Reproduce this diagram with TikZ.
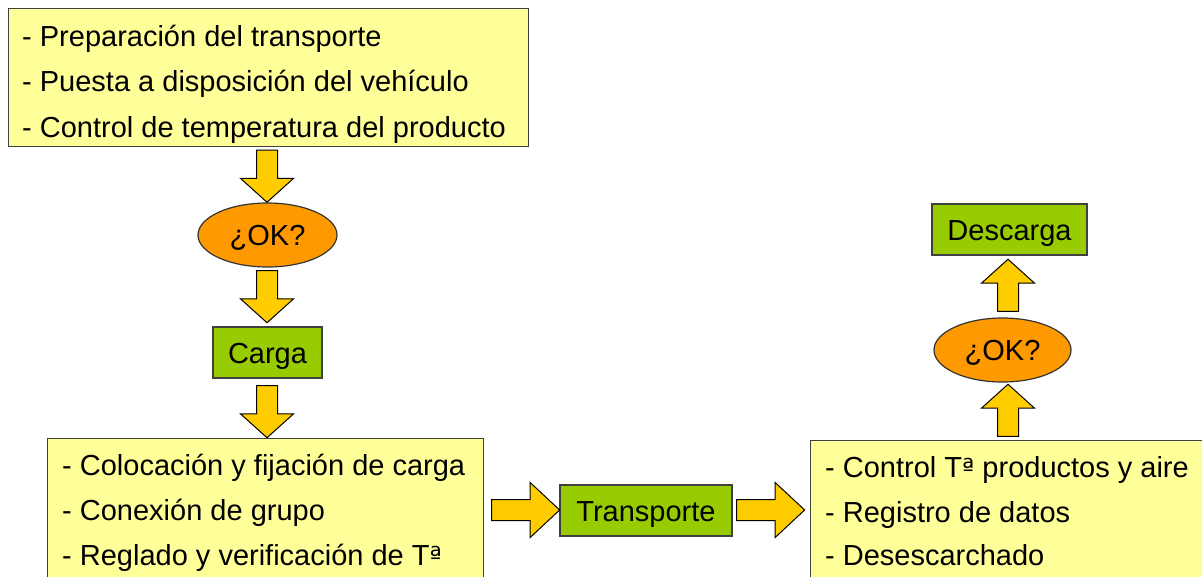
\documentclass[tikz,border=0pt]{standalone}
\usepackage{fontspec}
\setmainfont{Liberation Sans}
\newfontfamily\djv{DejaVu Sans}
\usetikzlibrary{shapes.geometric,shapes.arrows}
\definecolor{boxyellow}{HTML}{FFFF99}
\definecolor{boxgreen}{HTML}{99CC00}
\definecolor{boxorange}{HTML}{FF9900}
\definecolor{arrowyellow}{HTML}{FFCC00}
\newcommand\ordf{{\djv\fontsize{26}{30}\selectfont ª}}
\begin{document}
\begin{tikzpicture}[x=1pt,y=-1pt,
  bigfont/.style={font=\fontsize{29}{34}\selectfont},
  ybox/.style={draw=black!75, line width=1.2pt, fill=boxyellow, inner sep=0pt, anchor=north west},
  gbox/.style={draw=black!75, line width=1.2pt, fill=boxgreen, inner sep=0pt, bigfont,
    text height=21pt, text depth=0pt},
  okell/.style={ellipse, draw=black!80, line width=1.2pt, fill=boxorange, inner sep=0pt,
    minimum width=139pt, minimum height=64pt, bigfont, text height=21pt, text depth=0pt},
  txt/.style={anchor=base west, inner sep=0pt, bigfont},
  varr/.style={single arrow, draw=black, line width=1pt, fill=arrowyellow,
    inner xsep=0pt, inner ysep=10pt, single arrow head extend=16pt,
    single arrow tip angle=96, minimum height=52pt},
  harr/.style={single arrow, draw=black, line width=1pt, fill=arrowyellow,
    inner xsep=0pt, inner ysep=10pt, single arrow head extend=17pt,
    single arrow tip angle=86, minimum height=68pt}
]
\useasboundingbox (0,0) rectangle (1202,576);
\fill[white] (0,0) rectangle (1202,576);

% top box
\node[ybox, minimum width=520pt, minimum height=138pt] (prep) at (8,8) {};
\node[txt] (p1) at (22,46) {- Preparación del transporte};
\node[txt] (p2) at (22,91) {- Puesta a disposición del vehículo};
\node[txt] (p3) at (22,137) {- Control de temperatura del producto};

% left column
\node[okell] (ok1) at (267.5,235) {¿OK?};
\node[gbox, minimum width=109pt, minimum height=51pt] (carga) at (267.5,352.5) {Carga};

% bottom left box
\node[ybox, minimum width=436pt, minimum height=150pt] (carg) at (47,438) {};
\node[txt] (c1) at (62,475) {- Colocación y fijación de carga};
\node[txt] (c2) at (62,520) {- Conexión de grupo};
\node[txt] (c3) at (62,565) {- Reglado y verificación de T\ordf};

% transporte
\node[gbox, minimum width=172pt, minimum height=51pt] (trans) at (646,510.5) {Transporte};

% bottom right box
\node[ybox, minimum width=410pt, minimum height=150pt] (ctrl) at (810,440) {};
\node[txt] (d1) at (825,477) {- Control T\ordf{} productos y aire};
\node[txt] (d2) at (825,522) {- Registro de datos};
\node[txt] (d3) at (825,565) {- Desescarchado};

% right column
\node[okell, minimum width=137pt] (ok2) at (1002.5,350) {¿OK?};
\node[gbox, minimum width=155pt, minimum height=51pt] (desc) at (1009.5,229.5) {Descarga};

% block arrows
\node[varr, rotate=-90] (a1) at (267,171.5) {};
\node[varr, rotate=-90] (a2) at (267,292) {};
\node[varr, rotate=-90] (a3) at (267,407) {};
\node[harr] (a4) at (520,510) {};
\node[harr] (a5) at (765,510) {};
\node[varr, rotate=90] (a6) at (1008,415) {};
\node[varr, rotate=90] (a7) at (1008,290) {};
\end{tikzpicture}
\end{document}
